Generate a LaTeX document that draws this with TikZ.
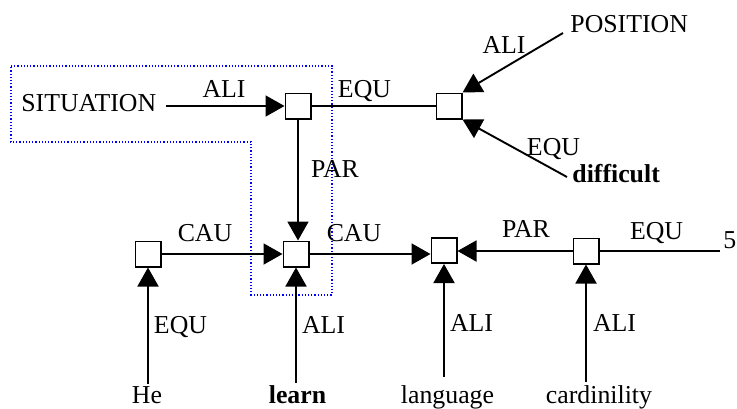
\documentclass[tikz,border=0pt]{standalone}
\usepackage{fontspec}
\setmainfont{Liberation Serif}
\usetikzlibrary{arrows.meta,calc}
\begin{document}
\begin{tikzpicture}[x=0.5pt,y=-0.5pt,
  box/.style={draw,line width=0.9pt,minimum size=12.6pt,inner sep=0pt,fill=white},
  txt/.style={inner sep=0pt,font=\fontsize{12.9}{15}\selectfont},
  bt/.style={txt,font=\fontsize{12.9}{15}\selectfont\bfseries},
  lnk/.style={line width=0.95pt},
  arr/.style={lnk,-{Triangle[length=9.5pt,width=10.5pt]}},
  region/.style={blue,densely dotted,line width=0.6pt}]
\useasboundingbox (0,0) rectangle (737,408);
% region outline
\draw[region] (11,66) -- (332,66) -- (332,295) -- (251,295) -- (251,142) -- (11,142) -- cycle;
% boxes
\node[box] (b1) at (298,106) {};
\node[box] (b2) at (449,106) {};
\node[box] (bhe) at (148,254) {};
\node[box] (blearn) at (296,254) {};
\node[box] (blang) at (444,250.5) {};
\node[box] (bcard) at (586,251) {};
% concept texts
\node[txt,anchor=base west] (sit) at (21,111) {SITUATION};
\node[txt,anchor=base west] (pos) at (570,32) {POSITION};
\node[bt,anchor=base west] (diff) at (572,182) {difficult};
\node[txt,anchor=base west] (five) at (723,248) {5};
\node[txt,anchor=base] (he) at (147,403) {He};
\node[bt,anchor=base] (learn) at (297.5,403) {learn};
\node[txt,anchor=base] (lang) at (447.5,403) {language};
\node[txt,anchor=base] (card) at (599,403) {cardinility};
% relation labels
\node[txt,anchor=base] (l1) at (224,97) {ALI};
\node[txt,anchor=base] (l2) at (364.5,97) {EQU};
\node[txt,anchor=base] (l3) at (335,177) {PAR};
\node[txt,anchor=base] (l4) at (504,53) {ALI};
\node[txt,anchor=base] (l5) at (553.5,155) {EQU};
\node[txt,anchor=base] (l6) at (205,241) {CAU};
\node[txt,anchor=base] (l7) at (354,241) {CAU};
\node[txt,anchor=base] (l8) at (526,237) {PAR};
\node[txt,anchor=base] (l9) at (656.5,239) {EQU};
\node[txt,anchor=base] (l10) at (180.5,333) {EQU};
\node[txt,anchor=base] (l11) at (323.5,333) {ALI};
\node[txt,anchor=base] (l12) at (471.5,331) {ALI};
\node[txt,anchor=base] (l13) at (614.5,331) {ALI};
% connectors
\draw[arr] ([xshift=4.5pt]sit.east |- b1.west) -- (b1.west);
\draw[lnk] (b1.east) -- (b2.west);
\draw[arr] ($(pos.base west)+(-7,1)$) -- (b2.north east);
\draw[arr] ($(diff.base west)+(-5,-5)$) -- (b2.south east);
\draw[arr] (b1.south) -- (b1.south |- blearn.north);
\draw[arr] (bhe.east) -- (blearn.west);
\draw[arr] (blearn.east) -- (blearn.east -| blang.west);
\draw[arr] (bcard.west) -- (bcard.west -| blang.east);
\draw[lnk] (bcard.east) -- ([xshift=-1.5pt]bcard.east -| five.west);
\draw[arr] ([yshift=1pt]bhe.south |- he.north) -- (bhe.south);
\draw[arr] ([yshift=1pt]blearn.south |- learn.north) -- (blearn.south);
\draw[arr] ([yshift=4pt]blang.south |- lang.north) -- (blang.south);
\draw[arr] ([yshift=1.5pt]bcard.south |- card.north) -- (bcard.south);
\end{tikzpicture}
\end{document}
